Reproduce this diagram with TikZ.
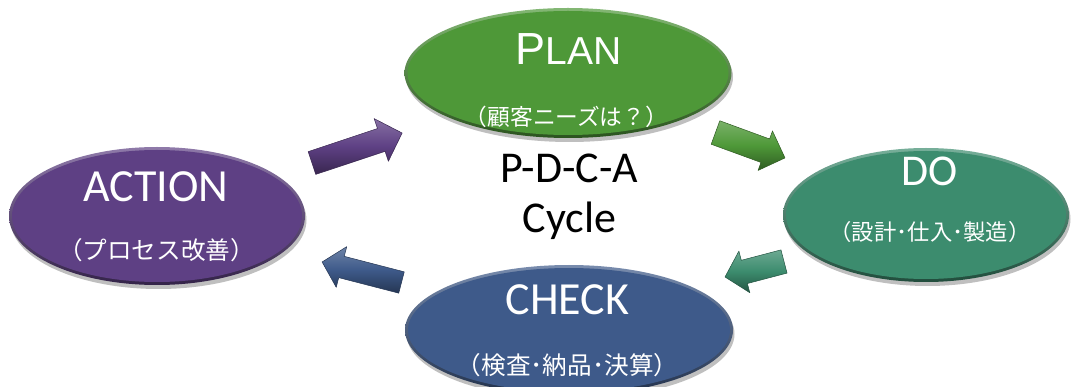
\documentclass[tikz,border=0pt]{standalone}
\usepackage{fontspec}
\setmainfont{Carlito}
\newfontfamily\arialf{Liberation Sans}
\newfontfamily\jpf{Noto Sans CJK JP}
\usetikzlibrary{shapes.geometric,shadows}
\definecolor{cplan}{RGB}{78,152,56}
\definecolor{cact}{RGB}{94,64,132}
\definecolor{cdo}{RGB}{60,140,110}
\definecolor{cchk}{RGB}{62,90,138}
\tikzset{
  blob/.style={ellipse, inner sep=0pt, top color=#1!70!white, bottom color=#1!55!black,
    drop shadow={shadow xshift=1.5pt, shadow yshift=-4pt, opacity=0.25, fill=black}},
  ttl/.style={anchor=base, text=white, inner sep=0pt, font=\fontsize{46}{50}\selectfont},
  jp/.style={anchor=base, text=white, inner sep=0pt},
  ctr/.style={anchor=base, text=black, inner sep=0pt, font=\fontsize{44}{48}\selectfont},
  barrow/.style={top color=#1!75!white, bottom color=#1!60!black, middle color=#1, draw=#1!60!black, line width=0.5pt, line join=round},
}
% #1 tail centre, #2 angle, #3 length, #4 half shaft, #5 half head, #6 head length, #7 colour
\newcommand\blkarrow[7]{%
  \begin{scope}[shift={#1}, rotate=#2]
    \shade[barrow=#7] (0,-#4) -- ({#3-#6},-#4) -- ({#3-#6},-#5) -- (#3,0)
      -- ({#3-#6},#5) -- ({#3-#6},#4) -- (0,#4) -- cycle;
  \end{scope}}
\begin{document}
\begin{tikzpicture}[x=1pt, y=-1pt]
\useasboundingbox (0,0) rectangle (1071,387);
\clip (0,0) rectangle (1071,387);

% ellipses
\node[blob=cplan, minimum width=327pt, minimum height=130pt] (plan) at (568,73) {};
\fill[cplan] (plan.center) ellipse [x radius=160.5pt, y radius=62pt];
\node[blob=cact, minimum width=296pt, minimum height=138pt] (act) at (157,216) {};
\fill[cact] (act.center) ellipse [x radius=145pt, y radius=66pt];
\node[blob=cdo, minimum width=286pt, minimum height=134pt] (do) at (926,215) {};
\fill[cdo] (do.center) ellipse [x radius=140pt, y radius=64pt];
\node[blob=cchk, minimum width=328pt, minimum height=130pt] (chk) at (569,330) {};
\fill[cchk] (chk.center) ellipse [x radius=161pt, y radius=62pt];

% arrows
\blkarrow{(312,163)}{18.4}{95}{12}{22.5}{22}{cact}
\blkarrow{(715.5,132.5)}{-20.1}{74}{12.5}{21}{21}{cplan}
\blkarrow{(784,261.5)}{194.7}{61}{12}{21.5}{20}{cdo}
\blkarrow{(401.5,282.5)}{165.5}{82}{11}{21}{20}{cchk}

% titles
\node[jp, font=\arialf] (planT) at (568.5,65) {{\fontsize{45}{50}\selectfont P}\fontsize{39}{44}\selectfont LAN};
\node[jp, font=\jpf\fontsize{22.7}{25}\selectfont] (planS) at (566.5,125.6) {（顧客ニーズは？）};
\node[ttl] (actT) at (156,202) {ACTION};
\node[jp, font=\jpf\fontsize{24.6}{27}\selectfont] (actS) at (156.5,259.3) {（プロセス改善）};
\node[ttl, font=\fontsize{44}{48}\selectfont] (doT) at (930,186) {DO};
\node[jp, font=\jpf\fontsize{22.3}{25}\selectfont] (doS) at (930,240.5) {（設計･仕入･製造）};
\node[ttl] (chkT) at (567.5,315) {CHECK};
\node[jp, font=\jpf\fontsize{24.6}{27}\selectfont] (chkS) at (567.5,374.3) {（検査･納品･決算）};

% centre
\node[ctr] (pdca) at (569,183) {P-D-C-A};
\node[ctr] (cyc) at (569.5,233) {Cycle};
\end{tikzpicture}
\end{document}
